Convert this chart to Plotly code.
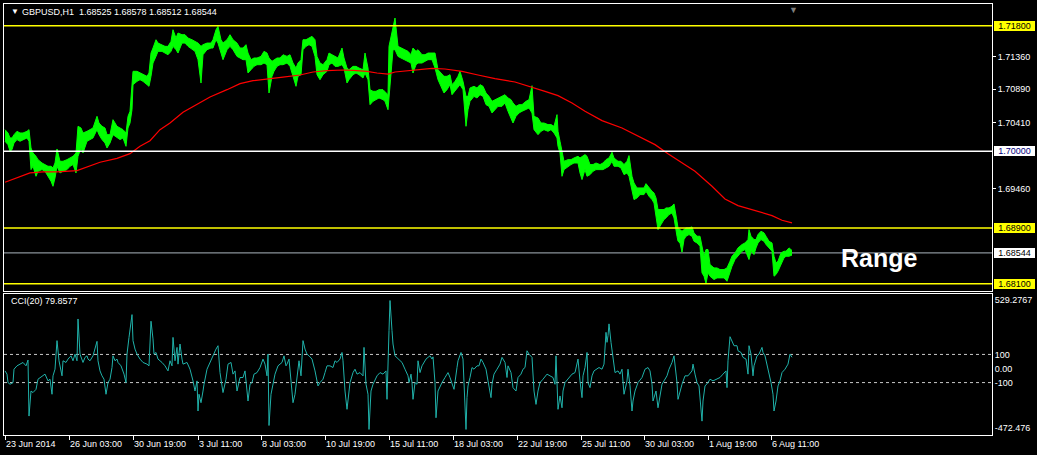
import plotly.graph_objects as go

# ---------------- data ----------------
symbol_title = "GBPUSD,H1  1.68525 1.68578 1.68512 1.68544"
cci_title = "CCI(20) 79.8577"
note_text = "Range"

x_tick_hours = [0, 64, 128, 193, 256, 320, 384, 448, 512, 576, 639, 703, 766]
x_tick_text = ["23 Jun 2014", "26 Jun 03:00", "30 Jun 19:00", "3 Jul 11:00",
               "8 Jul 03:00", "10 Jul 19:00", "15 Jul 11:00", "18 Jul 03:00",
               "22 Jul 19:00", "25 Jul 11:00", "30 Jul 03:00", "1 Aug 19:00",
               "6 Aug 11:00"]

# hourly bar index (hours since first visible bar), high and low
price_hour = [
    0, 3, 5, 7, 9, 12, 15, 18, 22, 24,
    26, 28, 31, 33, 37, 40, 43, 46, 48, 50,
    52, 55, 58, 62, 65, 68, 71, 73, 76, 78,
    82, 85, 88, 92, 94, 97, 100, 102, 105, 108,
    112, 115, 118, 121, 123, 125, 127, 128, 132, 135,
    138, 142, 144, 146, 148, 151, 153, 157, 160, 163,
    166, 168, 171, 173, 177, 180, 183, 187, 190, 193,
    196, 198, 202, 206, 208, 211, 213, 216, 218, 222,
    225, 228, 232, 235, 238, 241, 243, 246, 249, 252,
    256, 259, 262, 264, 267, 269, 272, 275, 278, 282,
    285, 288, 291, 293, 296, 298, 301, 304, 307, 310,
    312, 315, 318, 322, 324, 327, 330, 333, 337, 339,
    342, 344, 348, 351, 354, 358, 360, 363, 365, 368,
    371, 374, 378, 380, 383, 384, 387, 388, 390, 393,
    396, 399, 403, 406, 408, 411, 413, 417, 420, 423,
    427, 430, 433, 436, 439, 442, 445, 447, 450, 453,
    455, 458, 461, 463, 465, 469, 472, 475, 478, 481,
    484, 487, 490, 493, 497, 500, 503, 506, 508, 511,
    514, 517, 521, 524, 527, 529, 533, 536, 539, 543,
    546, 549, 552, 553, 555, 557, 559, 563, 566, 569,
    573, 575, 577, 580, 582, 585, 588, 591, 595, 598,
    601, 604, 607, 609, 613, 616, 619, 622, 624, 627,
    629, 632, 635, 639, 641, 644, 647, 649, 651, 653,
    656, 659, 661, 664, 667, 669, 672, 673, 675, 677,
    679, 681, 684, 687, 689, 692, 695, 697, 699, 701,
    703, 705, 709, 712, 715, 719, 722, 725, 727, 730,
    733, 737, 740, 743, 744, 746, 749, 751, 753, 756,
    759, 761, 764, 767, 769, 771, 773, 776, 779, 781,
    784, 787]

price_high = [
    1.70310, 1.70262, 1.70191, 1.70191, 1.70238, 1.70286, 1.70262, 1.70262, 1.70286, 1.70310,
    1.70047, 1.69976, 1.69928, 1.69880, 1.69832, 1.69809, 1.69785, 1.69785, 1.69761, 1.69832,
    1.70033, 1.69856, 1.69856, 1.69880, 1.69904, 1.69928, 1.69976, 1.70358, 1.70334, 1.70262,
    1.70286, 1.70310, 1.70334, 1.70501, 1.70405, 1.70358, 1.70334, 1.70238, 1.70238, 1.70453,
    1.70358, 1.70334, 1.70310, 1.70262, 1.70501, 1.70573, 1.70931, 1.71146, 1.71146, 1.71122,
    1.71098, 1.71074, 1.71122, 1.71408, 1.71480, 1.71599, 1.71551, 1.71528, 1.71504, 1.71504,
    1.71575, 1.71742, 1.71623, 1.71695, 1.71671, 1.71671, 1.71623, 1.71599, 1.71575, 1.71551,
    1.71504, 1.71528, 1.71551, 1.71551, 1.71599, 1.71742, 1.71790, 1.71599, 1.71551, 1.71599,
    1.71671, 1.71599, 1.71551, 1.71480, 1.71480, 1.71528, 1.71408, 1.71313, 1.71337, 1.71337,
    1.71360, 1.71432, 1.71408, 1.71337, 1.71289, 1.71313, 1.71337, 1.71337, 1.71384, 1.71360,
    1.71384, 1.71265, 1.71193, 1.71265, 1.71313, 1.71599, 1.71599, 1.71623, 1.71647, 1.71599,
    1.71360, 1.71265, 1.71241, 1.71313, 1.71408, 1.71384, 1.71360, 1.71337, 1.71480, 1.71337,
    1.71193, 1.71169, 1.71217, 1.71217, 1.71193, 1.71169, 1.71408, 1.71193, 1.70883, 1.70859,
    1.70859, 1.70883, 1.70883, 1.70859, 1.70811, 1.71504, 1.71695, 1.71742, 1.71910, 1.71504,
    1.71480, 1.71456, 1.71432, 1.71384, 1.71480, 1.71432, 1.71456, 1.71384, 1.71384, 1.71408,
    1.71408, 1.71408, 1.71169, 1.71122, 1.71074, 1.71074, 1.71098, 1.70955, 1.71002, 1.71074,
    1.71146, 1.71002, 1.70787, 1.70787, 1.70907, 1.70931, 1.70907, 1.70955, 1.70931, 1.70835,
    1.70787, 1.70716, 1.70740, 1.70764, 1.70787, 1.70811, 1.70764, 1.70740, 1.70692, 1.70644,
    1.70668, 1.70668, 1.70716, 1.70740, 1.70940, 1.70501, 1.70477, 1.70405, 1.70405, 1.70382,
    1.70382, 1.70358, 1.70525, 1.70286, 1.70143, 1.70000, 1.69856, 1.69880, 1.69880, 1.69904,
    1.69928, 1.69904, 1.69928, 1.69952, 1.69928, 1.69809, 1.69809, 1.69832, 1.69809, 1.69832,
    1.69880, 1.69904, 1.69985, 1.69904, 1.69856, 1.69856, 1.69809, 1.69856, 1.69938, 1.69641,
    1.69546, 1.69474, 1.69474, 1.69474, 1.69536, 1.69474, 1.69427, 1.69403, 1.69331, 1.69164,
    1.69164, 1.69164, 1.69188, 1.69188, 1.69212, 1.69245, 1.68997, 1.68901, 1.68877, 1.68854,
    1.68877, 1.68901, 1.68901, 1.68916, 1.68830, 1.68782, 1.68782, 1.68615, 1.68495, 1.68591,
    1.68591, 1.68376, 1.68328, 1.68328, 1.68304, 1.68304, 1.68328, 1.68424, 1.68495, 1.68543,
    1.68615, 1.68663, 1.68686, 1.68734, 1.68877, 1.68782, 1.68734, 1.68734, 1.68806, 1.68854,
    1.68830, 1.68782, 1.68710, 1.68686, 1.68495, 1.68400, 1.68424, 1.68543, 1.68567, 1.68567,
    1.68615, 1.68578]

price_low = [
    1.70143, 1.70095, 1.70000, 1.70023, 1.70119, 1.70167, 1.70143, 1.70167, 1.70191, 1.70143,
    1.69737, 1.69785, 1.69641, 1.69713, 1.69737, 1.69713, 1.69641, 1.69570, 1.69498, 1.69618,
    1.69785, 1.69689, 1.69713, 1.69737, 1.69785, 1.69809, 1.69689, 1.69928, 1.70047, 1.69976,
    1.70143, 1.70167, 1.70191, 1.70310, 1.70238, 1.70167, 1.70119, 1.70047, 1.70119, 1.70238,
    1.70191, 1.70167, 1.70191, 1.70071, 1.70334, 1.70405, 1.70596, 1.70955, 1.71002, 1.71026,
    1.71002, 1.70955, 1.70931, 1.71074, 1.71265, 1.71360, 1.71432, 1.71432, 1.71408, 1.71384,
    1.71432, 1.71504, 1.71456, 1.71408, 1.71551, 1.71551, 1.71504, 1.71456, 1.71432, 1.71313,
    1.70978, 1.71384, 1.71456, 1.71480, 1.71480, 1.71599, 1.71551, 1.71408, 1.71313, 1.71456,
    1.71504, 1.71456, 1.71360, 1.71337, 1.71313, 1.71313, 1.71122, 1.71169, 1.71217, 1.71241,
    1.71241, 1.71265, 1.71241, 1.70835, 1.71074, 1.71146, 1.71217, 1.71241, 1.71241, 1.71265,
    1.71217, 1.71074, 1.70931, 1.71074, 1.71098, 1.71456, 1.71504, 1.71528, 1.71504, 1.71360,
    1.71098, 1.71026, 1.71098, 1.71146, 1.71241, 1.71265, 1.71217, 1.71217, 1.71241, 1.71193,
    1.70978, 1.71026, 1.71098, 1.71122, 1.71098, 1.71050, 1.71122, 1.71026, 1.70668, 1.70716,
    1.70740, 1.70764, 1.70740, 1.70716, 1.70596, 1.70787, 1.71313, 1.71456, 1.71456, 1.71360,
    1.71337, 1.71313, 1.71289, 1.71265, 1.71122, 1.71241, 1.71265, 1.71265, 1.71289, 1.71313,
    1.71313, 1.71193, 1.71026, 1.70931, 1.70835, 1.70883, 1.70955, 1.70811, 1.70859, 1.70907,
    1.70955, 1.70883, 1.70358, 1.70596, 1.70716, 1.70787, 1.70764, 1.70811, 1.70787, 1.70668,
    1.70644, 1.70549, 1.70596, 1.70644, 1.70644, 1.70692, 1.70573, 1.70477, 1.70405, 1.70501,
    1.70549, 1.70573, 1.70596, 1.70620, 1.70549, 1.70310, 1.70238, 1.70286, 1.70310, 1.70286,
    1.70310, 1.70262, 1.70191, 1.70071, 1.69976, 1.69641, 1.69737, 1.69785, 1.69809, 1.69832,
    1.69832, 1.69689, 1.69594, 1.69737, 1.69641, 1.69665, 1.69713, 1.69737, 1.69737, 1.69737,
    1.69761, 1.69785, 1.69856, 1.69785, 1.69785, 1.69761, 1.69665, 1.69689, 1.69641, 1.69427,
    1.69307, 1.69331, 1.69379, 1.69379, 1.69427, 1.69355, 1.69307, 1.69259, 1.69068, 1.68877,
    1.68949, 1.69021, 1.69045, 1.69092, 1.69116, 1.69045, 1.68782, 1.68710, 1.68686, 1.68553,
    1.68734, 1.68782, 1.68806, 1.68782, 1.68710, 1.68686, 1.68639, 1.68257, 1.68209, 1.68104,
    1.68257, 1.68209, 1.68161, 1.68185, 1.68185, 1.68185, 1.68137, 1.68281, 1.68352, 1.68448,
    1.68495, 1.68567, 1.68591, 1.68472, 1.68448, 1.68567, 1.68519, 1.68615, 1.68686, 1.68734,
    1.68710, 1.68663, 1.68615, 1.68567, 1.68209, 1.68233, 1.68281, 1.68376, 1.68472, 1.68495,
    1.68495, 1.68512]

# moving average (red)
ma_hour = [0, 12, 25, 38, 52, 72, 82, 95, 112, 125, 135, 145, 155, 165, 178, 192,
           205, 222, 235, 248, 262, 278, 295, 308, 322, 338, 348, 362, 372, 383,
           390, 410, 427, 440, 457, 473, 490, 510, 527, 540, 553, 567, 580, 597,
           617, 633, 650, 663, 677, 690, 707, 720, 733, 750, 767, 777, 787]
ma_value = [1.69556, 1.69618, 1.69689, 1.69704, 1.69704, 1.69723, 1.69771, 1.69842,
            1.69899, 1.69966, 1.70071, 1.70152, 1.70310, 1.70405, 1.70558, 1.70678,
            1.70778, 1.70883, 1.70969, 1.71012, 1.71041, 1.71064, 1.71093, 1.71136,
            1.71155, 1.71165, 1.71160, 1.71146, 1.71122, 1.71105, 1.71136, 1.71169,
            1.71189, 1.71179, 1.71146, 1.71093, 1.71041, 1.70993, 1.70921, 1.70859,
            1.70797, 1.70692, 1.70573, 1.70439, 1.70334, 1.70214, 1.70095, 1.69966,
            1.69832, 1.69713, 1.69498, 1.69317, 1.69221, 1.69150, 1.69078, 1.69011,
            1.68973]

# CCI(20)
cci_hour = [
    0, 2, 3, 5, 8, 9, 12, 15, 18, 21, 23, 24, 26, 28, 31, 33, 37, 40, 43, 45,
    47, 48, 50, 52, 54, 57, 58, 61, 63, 66, 68, 70, 72, 73, 75, 77, 78, 80, 82, 83,
    85, 88, 90, 92, 93, 95, 97, 99, 101, 103, 105, 107, 108, 110, 112, 113, 116, 118, 119, 121,
    122, 124, 127, 128, 130, 132, 135, 138, 142, 144, 146, 148, 149, 151, 153, 157, 160, 163, 165, 167,
    168, 170, 172, 173, 175, 177, 178, 182, 185, 188, 190, 192, 193, 194, 196, 198, 199, 202, 205, 208,
    211, 213, 215, 217, 218, 221, 223, 226, 228, 230, 232, 235, 238, 240, 242, 243, 245, 247, 249, 252,
    255, 258, 260, 262, 263, 264, 266, 268, 270, 273, 277, 279, 281, 282, 284, 286, 288, 290, 292, 294,
    296, 298, 300, 302, 304, 307, 310, 313, 315, 318, 320, 322, 325, 328, 330, 332, 335, 337, 338, 340,
    342, 343, 345, 348, 350, 352, 355, 358, 359, 361, 363, 364, 366, 368, 370, 372, 375, 378, 381, 382,
    384, 385, 387, 388, 390, 393, 397, 400, 403, 404, 406, 407, 408, 410, 412, 413, 415, 417, 418, 421,
    423, 425, 427, 428, 430, 431, 433, 435, 437, 440, 443, 445, 447, 449, 452, 453, 456, 458, 459, 461,
    462, 463, 465, 467, 469, 472, 474, 476, 478, 481, 483, 486, 487, 489, 492, 495, 497, 500, 502, 503,
    506, 508, 511, 513, 516, 518, 520, 522, 524, 527, 529, 531, 533, 535, 538, 542, 545, 548, 550, 551,
    553, 555, 557, 558, 560, 563, 567, 570, 573, 575, 577, 578, 580, 582, 583, 585, 587, 589, 592, 594,
    597, 599, 601, 602, 603, 604, 606, 608, 610, 613, 615, 617, 619, 622, 623, 625, 627, 628, 630, 633,
    637, 640, 643, 645, 647, 648, 651, 653, 655, 657, 659, 662, 664, 667, 669, 672, 673, 675, 677, 680,
    683, 687, 688, 690, 692, 694, 696, 697, 698, 700, 703, 705, 708, 712, 715, 718, 721, 722, 723, 725,
    727, 729, 732, 733, 736, 738, 741, 743, 744, 746, 748, 749, 752, 754, 757, 758, 760, 762, 764, 766,
    768, 769, 771, 773, 775, 777, 780, 783, 785, 787]

cci_value = [
    -17, -40, -100, -112, -100, -5, 19, 31, 43, 19, 60, -338, -160, -171, -148, -76, -52, -40, -88, -76,
    -183, -52, -5, 198, 55, -52, 55, 43, 67, 90, 55, 102, 55, 352, 102, 55, 43, 79, 90, 67,
    55, 90, 138, 193, 55, -17, -52, -76, -183, -100, -76, 7, 90, 55, 67, 43, 19, -17, -40, -100,
    102, 221, 383, 198, 138, 102, 67, 43, 31, 19, 336, 210, 102, 114, 67, 43, 19, -17, 55, 19,
    221, 55, 150, 31, 174, 67, 31, 43, -5, -88, -160, -88, -302, -183, -243, -160, -112, -5, 43, 102,
    138, 162, -29, -124, -171, -76, 31, 43, -40, -17, -160, -64, -64, -17, -136, -231, -112, -100, -40, -29,
    7, 67, 31, -52, 102, -405, -183, -100, -40, 19, 43, 90, 19, 31, 67, -88, -243, -183, -64, 55,
    -52, 198, 138, 102, 90, 67, -17, -124, -100, -76, -29, 19, 19, 7, 55, 43, 67, 114, 55, -160,
    -290, -231, -100, -29, -5, -40, -29, -52, 150, -112, -183, -433, -160, -112, -76, -52, -29, -40, -17, -219,
    269, 483, 269, 174, 90, 67, 43, -5, -52, -100, -40, -100, -219, -100, -112, 55, -29, 19, 31, 67,
    79, 90, 67, 83, -100, -350, -160, -124, -100, -64, -29, -64, -100, -148, 7, 55, 114, 67, -100, -433,
    -207, -124, -64, 7, -5, 19, 19, 67, 43, -5, -88, -207, -112, -40, -5, 31, 79, 43, -64, 19,
    -29, -136, -160, -64, -40, -5, 7, 126, 102, 79, -160, -255, -160, -100, -76, -40, -52, -64, -112, 90,
    -290, -195, -279, -160, -100, -76, -40, -29, 67, -88, -207, -52, 7, 114, -100, -136, -52, -17, -5, 7,
    -5, 31, 257, 186, 233, 317, 186, 79, -29, -17, -40, -5, -183, -88, -5, -124, -302, -231, -160, -100,
    -64, -5, 7, -17, -112, -231, -160, -279, -183, -112, -88, -52, -5, 43, 90, -100, -219, -160, -112, -52,
    -52, -17, 31, -40, -100, -124, -267, -374, -231, -124, -100, -76, -88, -76, -64, -40, -17, -136, 55, 226,
    198, 162, 162, 126, 114, 79, 67, -40, 162, 102, -52, 19, 90, 102, 150, 114, 90, 31, -40, -100,
    -183, -302, -231, -124, -88, -29, -5, 31, 102, 79.86]

level_yellow = [1.71800, 1.68900, 1.68100]
level_white = [1.70000]
last_price = 1.68544
price_ticks = [1.71360, 1.70890, 1.70410, 1.69460]
cci_levels = [100, -100]
cci_axis_min, cci_axis_max = -472.476, 529.2767

# ---------------- figure ----------------
FONT = "Liberation Sans, Arial, sans-serif"
GREEN = "#00ff00"

fig = go.Figure()

fig.add_trace(go.Scatter(x=price_hour, y=price_high, mode="lines",
                         line=dict(color=GREEN, width=1), xaxis="x2", yaxis="y",
                         hoverinfo="skip", showlegend=False))
fig.add_trace(go.Scatter(x=price_hour, y=price_low, mode="lines",
                         line=dict(color=GREEN, width=1), fill="tonexty",
                         fillcolor=GREEN, xaxis="x2", yaxis="y",
                         hoverinfo="skip", showlegend=False))
fig.add_trace(go.Scatter(x=ma_hour, y=ma_value, mode="lines",
                         line=dict(color="#ff0000", width=1.2), xaxis="x2", yaxis="y",
                         hoverinfo="skip", showlegend=False))
fig.add_trace(go.Scatter(x=cci_hour, y=cci_value, mode="lines",
                         line=dict(color="#20b2aa", width=1), xaxis="x", yaxis="y2",
                         hoverinfo="skip", showlegend=False))

shapes = []
for lv in level_yellow:
    shapes.append(dict(type="line", xref="paper", x0=0, x1=1, yref="y", y0=lv, y1=lv,
                       line=dict(color="#ffff00", width=1.5), layer="above"))
for lv in level_white:
    shapes.append(dict(type="line", xref="paper", x0=0, x1=1, yref="y", y0=lv, y1=lv,
                       line=dict(color="#ffffff", width=1.5), layer="above"))
shapes.append(dict(type="line", xref="paper", x0=0, x1=1, yref="y", y0=last_price,
                   y1=last_price, line=dict(color="#8a9299", width=1.2), layer="below"))
for lv in cci_levels:
    shapes.append(dict(type="line", xref="paper", x0=0, x1=1, yref="y2", y0=lv, y1=lv,
                       line=dict(color="#c8c8c8", width=1, dash="3px,3px"), layer="below"))

annotations = []
box_common = dict(xref="paper", x=1, xanchor="left", xshift=2, yref="y",
                  yanchor="middle", showarrow=False, width=41, height=10,
                  borderpad=0, borderwidth=0, align="center")
for lv in level_yellow:
    annotations.append(dict(text=f"{lv:.5f}", y=lv, bgcolor="#ffff00",
                            font=dict(family=FONT, size=9, color="#000000"), **box_common))
for lv in level_white:
    annotations.append(dict(text=f"{lv:.5f}", y=lv, bgcolor="#ffffff",
                            font=dict(family=FONT, size=9, color="#000080"), **box_common))
annotations.append(dict(text=f"{last_price:.5f}", y=last_price, bgcolor="#ffffff",
                        font=dict(family=FONT, size=9, color="#000000"), **box_common))

annotations.append(dict(text="▼", xref="paper", yref="paper", x=0.005, y=0.982,
                        xanchor="left", yanchor="middle", showarrow=False,
                        font=dict(family=FONT, size=8, color="#ffffff")))
annotations.append(dict(text=symbol_title, xref="paper", yref="paper", x=0.0162, y=0.982,
                        xanchor="left", yanchor="middle", showarrow=False,
                        font=dict(family=FONT, size=9, color="#ffffff")))
annotations.append(dict(text=cci_title, xref="paper", yref="paper", x=0.005, y=0.311,
                        xanchor="left", yanchor="middle", showarrow=False,
                        font=dict(family=FONT, size=9, color="#ffffff")))
annotations.append(dict(text=f"<b>{note_text}</b>", xref="x2", yref="y", x=874, y=1.68477,
                        xanchor="center", yanchor="middle", showarrow=False,
                        font=dict(family=FONT, size=25, color="#ffffff")))
annotations.append(dict(text="▼", xref="x2", yref="paper", x=788, y=1.003,
                        xanchor="center", yanchor="top", showarrow=False,
                        font=dict(family=FONT, size=9, color="#7f7f7f")))

axis_common = dict(showgrid=False, zeroline=False, showline=True, mirror=True,
                   linecolor="#ffffff", linewidth=1)

fig.update_layout(
    width=1037, height=455,
    margin=dict(l=4, r=45, t=4, b=20),
    paper_bgcolor="#000000", plot_bgcolor="#000000",
    font=dict(family=FONT, size=9, color="#ffffff"),
    showlegend=False,
    xaxis=dict(domain=[0, 1], anchor="y2", range=[-1, 987],
               tickvals=x_tick_hours, ticktext=x_tick_text,
               ticks="outside", ticklen=4, tickcolor="#ffffff",
               ticklabelposition="outside right",
               tickfont=dict(family=FONT, size=9, color="#ffffff"), **axis_common),
    xaxis2=dict(domain=[0, 1], anchor="y", matches="x", showticklabels=False,
                ticks="", **axis_common),
    yaxis=dict(domain=[0.3341, 1], anchor="x2", side="right",
               range=[1.67997, 1.72111], tickvals=price_ticks,
               ticktext=[f"{v:.5f}" for v in price_ticks],
               ticks="outside", ticklen=3, tickcolor="#ffffff",
               tickfont=dict(family=FONT, size=9, color="#ffffff"), **axis_common),
    yaxis2=dict(domain=[0, 0.3271], anchor="x", side="right",
                range=[cci_axis_min, cci_axis_max],
                tickvals=[486.6, 100, 0, -100, -424.9],
                ticktext=[f"{cci_axis_max:.4f}", "100", "0.00", "-100", f"{cci_axis_min:.3f}"],
                ticks="", tickfont=dict(family=FONT, size=9, color="#ffffff"), **axis_common),
    shapes=shapes,
    annotations=annotations,
)

fig.write_html("out.html",
               config={"displayModeBar": False, "staticPlot": True},
               post_script="document.body.style.margin='0';document.body.style.overflow='hidden';")
